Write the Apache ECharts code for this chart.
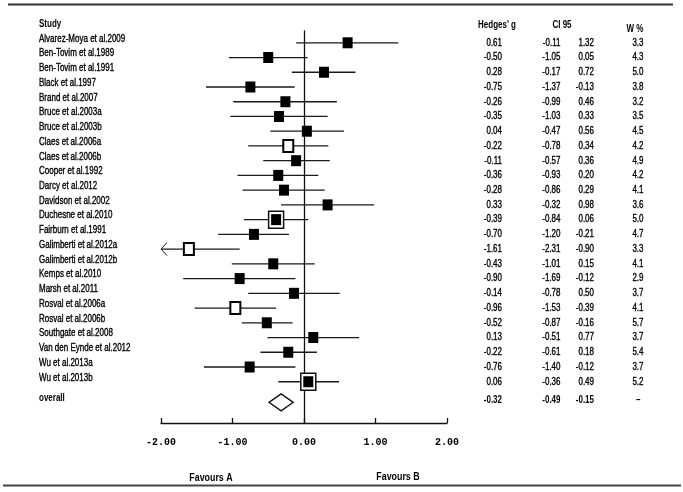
<!DOCTYPE html>
<html>
<head>
<meta charset="utf-8">
<script src="https://cdn.jsdelivr.net/npm/echarts@6/dist/echarts.min.js"></script>
<style>
html,body{margin:0;padding:0;background:#fff;}
#chart{width:683px;height:492px;}
</style>
</head>
<body>
<div id="chart"></div>
<script>
const studies = [
  'Alvarez-Moya et al.2009','Ben-Tovim et al.1989','Ben-Tovim et al.1991','Black et al.1997',
  'Brand et al.2007','Bruce et al.2003a','Bruce et al.2003b','Claes et al.2006a','Claes et al.2006b',
  'Cooper et al.1992','Darcy et al.2012','Davidson et al.2002','Duchesne et al.2010','Fairburn et al.1991',
  'Galimberti et al.2012a','Galimberti et al.2012b','Kemps et al.2010','Marsh et al.2011',
  'Rosval et al.2006a','Rosval et al.2006b','Southgate et al.2008','Van den Eynde et al.2012',
  'Wu et al.2013a','Wu et al.2013b'
];
const hedgesG = [0.61,-0.50,0.28,-0.75,-0.26,-0.35,0.04,-0.22,-0.11,-0.36,-0.28,0.33,-0.39,-0.70,-1.61,-0.43,-0.90,-0.14,-0.96,-0.52,0.13,-0.22,-0.76,0.06];
const ciLow = [-0.11,-1.05,-0.17,-1.37,-0.99,-1.03,-0.47,-0.78,-0.57,-0.93,-0.86,-0.32,-0.84,-1.20,-2.31,-1.01,-1.69,-0.78,-1.53,-0.87,-0.51,-0.61,-1.40,-0.36];
const ciHigh = [1.32,0.05,0.72,-0.13,0.46,0.33,0.56,0.34,0.36,0.20,0.29,0.98,0.06,-0.21,-0.90,0.15,-0.12,0.50,-0.39,-0.16,0.77,0.18,-0.12,0.49];
const weights = ['3.3','4.3','5.0','3.8','3.2','3.5','4.5','4.2','4.9','4.2','4.1','3.6','5.0','4.7','3.3','4.1','2.9','3.7','4.1','5.7','3.7','5.4','3.7','5.2'];
const markerKind = ['filled','filled','filled','filled','filled','filled','filled','hollow','filled','filled','filled','filled','double','filled','hollow','filled','filled','filled','hollow','filled','filled','filled','filled','double'];
const overallLabel = 'overall';
const overallValues = [-0.32,-0.49,-0.15];
const overallWeight = '–';
const xTicks = [-2,-1,0,1,2];
const headers = ['Study',"Hedges' g",'CI 95','W %'];
const favours = ['Favours A','Favours B'];

const FONT = "'Liberation Sans',Arial,sans-serif";
const NARROW = 0.77;
const TXT = '#000';
const fmt = v => v.toFixed(2);

const rows = studies.map((s,i)=>[hedgesG[i], i, ciLow[i], ciHigh[i], i]);
const overallRow = studies.length + 0.4;

function txt(text, x, y, align, bold, size){
  return {type:'text', x, y, scaleX:NARROW, scaleY:1,
    style:{text, x:0, y:0, textAlign:align, textVerticalAlign:'middle', fill:TXT,
    stroke: bold ? null : '#000', lineWidth: bold ? 0 : 0.35,
    font:(bold?'bold ':'')+(size||10.4)+'px '+FONT}};
}

function renderStudy(params, api){
  const g = api.value(0), row = api.value(1), lo = api.value(2), hi = api.value(3), idx = api.value(4);
  const y = api.coord([0,row])[1];
  const xg = api.coord([g,row])[0];
  const xmin = xTicks[0];
  const xlo = api.coord([Math.max(lo,xmin),row])[0];
  const xhi = api.coord([hi,row])[0];
  const ch = [];
  ch.push({type:'line', shape:{x1:xlo,y1:y,x2:xhi,y2:y}, style:{stroke:'#1a1a1a', lineWidth:1.3}});
  if (lo < xmin){
    ch.push({type:'polyline', shape:{points:[[xlo+6,y-6.5],[xlo,y],[xlo+6,y+6.5]]}, style:{stroke:'#1a1a1a', lineWidth:1, fill:null}});
  }
  const kind = markerKind[idx];
  if (kind === 'hollow'){
    ch.push({type:'rect', shape:{x:xg-5,y:y-6,width:10,height:12}, style:{fill:'#fff', stroke:'#000', lineWidth:2}});
  } else {
    if (kind === 'double'){
      ch.push({type:'rect', shape:{x:xg-7.5,y:y-8.5,width:15,height:17}, style:{fill:'#fff', stroke:'#111', lineWidth:1.5}});
    }
    ch.push({type:'rect', shape:{x:xg-5,y:y-5.5,width:10,height:11}, style:{fill:'#000'}});
  }
  ch.push(txt(studies[idx], 39, y-4, 'left', false));
  ch.push(txt(fmt(g), 502, y, 'right', false));
  ch.push(txt(fmt(lo), 560.5, y, 'right', false));
  ch.push(txt(fmt(hi), 594, y, 'right', false));
  ch.push(txt(weights[idx], 643.5, y, 'right', false));
  return {type:'group', children:ch};
}

function renderOverall(params, api){
  const g = api.value(0), row = api.value(1), lo = api.value(2), hi = api.value(3);
  const y = api.coord([0,row])[1];
  const xg = api.coord([g,row])[0];
  const xlo = api.coord([lo,row])[0];
  const xhi = api.coord([hi,row])[0];
  const ch = [];
  ch.push({type:'polygon', shape:{points:[[xlo,y],[xg,y-8.5],[xhi,y],[xg,y+8.5]]}, style:{fill:'#fff', stroke:'#111', lineWidth:1.3}});
  ch.push(txt(overallLabel, 39, y-4.5, 'left', true));
  ch.push(txt(fmt(g), 502, y-2.5, 'right', true));
  ch.push(txt(fmt(lo), 560.5, y-2.5, 'right', true));
  ch.push(txt(fmt(hi), 594, y-2.5, 'right', true));
  ch.push(txt(overallWeight, 640.5, y-2.5, 'right', true));
  return {type:'group', children:ch};
}

function gtext(text, x, y, align, size){
  return {type:'text', x, y, scaleX:NARROW, scaleY:1,
    style:{text, x:0, y:0, textAlign:align, textVerticalAlign:'middle', fill:TXT, font:'bold '+size+'px '+FONT}};
}

const chart = echarts.init(document.getElementById('chart'), null, {renderer:'canvas'});
chart.setOption({
  animation:false,
  backgroundColor:'#fff',
  grid:{left:161, right:236, top:31, bottom:69, containLabel:false},
  xAxis:{type:'value', min:xTicks[0], max:xTicks[xTicks.length-1], interval:1, position:'bottom',
    axisLine:{show:true, onZero:false, lineStyle:{color:'#111', width:1.3}},
    axisTick:{show:true, inside:true, length:5, lineStyle:{color:'#111', width:1.3}},
    axisLabel:{margin:14, color:'#000', fontWeight:'bold', fontSize:10, fontFamily:"'Liberation Mono','DejaVu Sans Mono',monospace",
      formatter:v=>fmt(v)},
    splitLine:{show:false}},
  yAxis:{type:'value', min:-0.8, max:25.8, inverse:true,
    axisLine:{show:true, onZero:true, lineStyle:{color:'#111', width:1.3}},
    axisTick:{show:false}, axisLabel:{show:false}, splitLine:{show:false}},
  graphic:[
    {type:'line', shape:{x1:8,y1:4.5,x2:673,y2:4.5}, style:{stroke:'#333', lineWidth:2}},
    {type:'line', shape:{x1:3,y1:485.5,x2:681,y2:485.5}, style:{stroke:'#444', lineWidth:2}},
    gtext(headers[0], 39, 24, 'left', 10.4),
    gtext(headers[1], 497, 25, 'center', 10.4),
    gtext(headers[2], 562, 25, 'center', 10.4),
    gtext(headers[3], 635, 29, 'center', 10.4),
    gtext(favours[0], 211, 478, 'center', 11.5),
    gtext(favours[1], 398, 477, 'center', 11.5)
  ],
  series:[
    {type:'custom', renderItem:renderStudy, data:rows, clip:false, silent:true, z:3},
    {type:'custom', renderItem:renderOverall, data:[[overallValues[0], overallRow, overallValues[1], overallValues[2], 0]], clip:false, silent:true, z:3}
  ]
});
</script>
</body>
</html>
